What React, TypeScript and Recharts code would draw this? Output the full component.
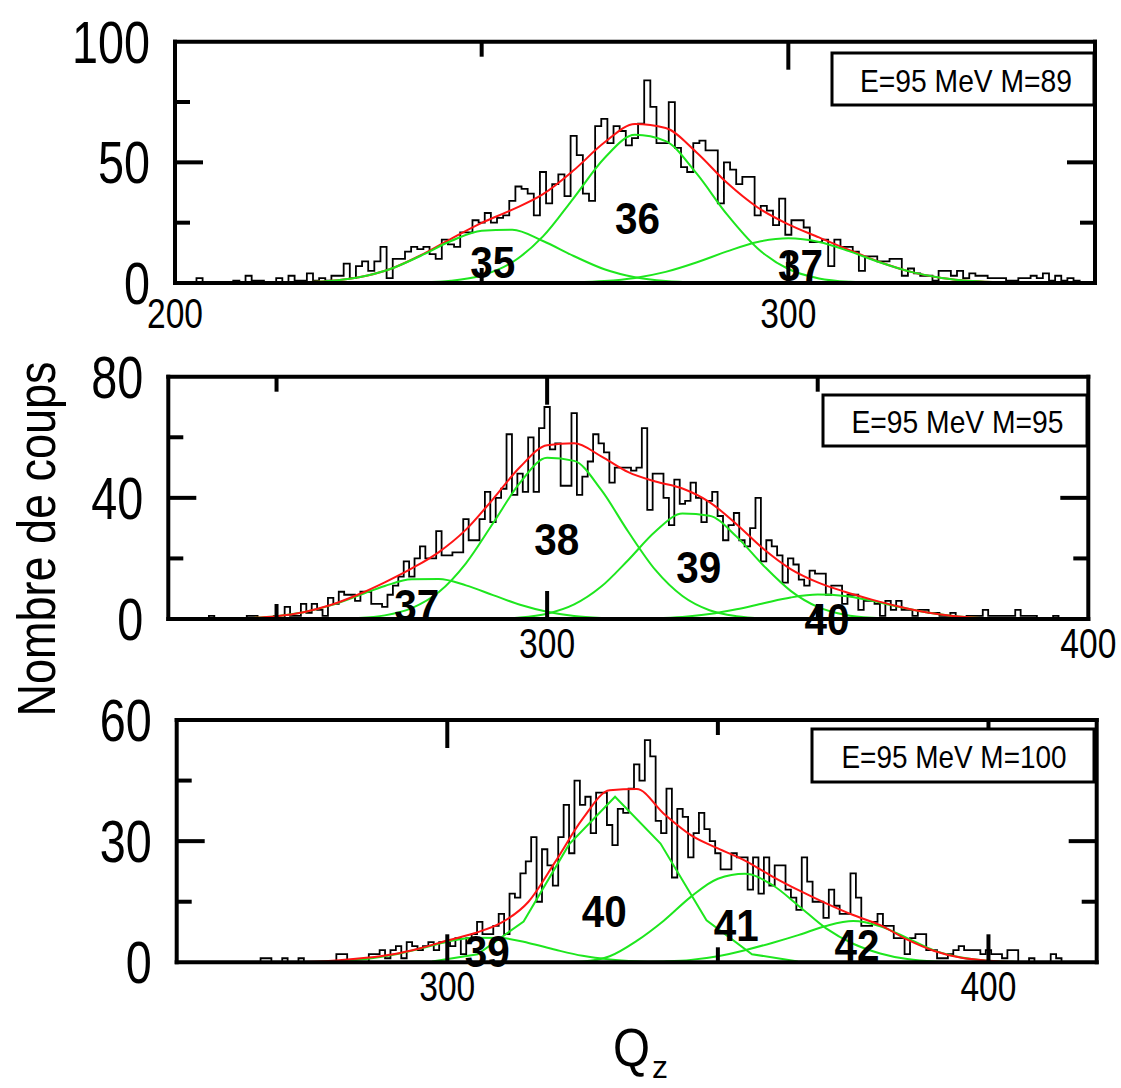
import React from 'react';
import { ComposedChart, Line, XAxis, YAxis, ReferenceDot } from 'recharts';

const FONT = '"Liberation Sans", Arial, Helvetica, sans-serif';
const GREEN = '#1ee61e';
const RED = '#ff1414';

// ---------- panel 1 : E=95 MeV M=89 ----------
const p1HistStart = 200;
const p1Hist = [
  0, 0, 0, 0, 2, 0, 0, 0, 0, 0, // 200
  1, 0, 3, 1, 1, 0, 0, 2, 0, 3, // 210
  1, 1, 4, 1, 2, 1, 3, 3, 8, 2, // 220
  7, 9, 5, 9, 15, 2, 10, 10, 13, 15, // 230
  14, 15, 12, 10, 18, 16, 15, 21, 21, 26, // 240
  25, 29, 25, 27, 28, 34, 40, 39, 37, 28, // 250
  46, 33, 41, 45, 36, 61, 53, 37, 34, 65, // 260
  68, 58, 65, 63, 57, 60, 66, 84, 73, 58, // 270
  58, 75, 56, 48, 46, 58, 59, 55, 55, 33, // 280
  50, 47, 41, 44, 44, 28, 32, 30, 24, 35, // 290
  20, 26, 26, 23, 17, 17, 18, 7, 18, 15, // 300
  15, 13, 5, 11, 11, 9, 9, 10, 10, 3, // 310
  6, 4, 3, 3, 1, 5, 5, 3, 5, 2, // 320
  4, 3, 3, 2, 2, 2, 1, 1, 2, 2, // 330
  3, 2, 4, 1, 3, 1, 2, 1, 0, 0, // 340
  0, // 350
];
const p1FitQ = [200, 205, 210, 215, 220, 225, 230, 235, 240, 245, 250, 255, 260, 265, 270, 275, 280, 285, 290, 295, 300, 305, 310, 315, 320, 325, 330, 335, 340, 345, 350];
const p1Fit35 = [0, 0, 0, 0.04, 0.2, 0.8, 2.4, 5.7, 11.2, 17.4, 21.7, 22.1, 17.4, 11.2, 5.7, 2.4, 0.8, 0.2, 0.04, 0, 0, 0, 0, 0, 0, 0, 0, 0, 0, 0, 0];
const p1Fit36 = [0, 0, 0, 0, 0, 0, 0, 0, 0.2, 0.9, 3.1, 8.6, 19.3, 35.2, 51.7, 61.4, 58.8, 45.5, 28.4, 14.3, 5.8, 1.9, 0.5, 0.1, 0, 0, 0, 0, 0, 0, 0];
const p1Fit37 = [0, 0, 0, 0, 0, 0, 0, 0, 0, 0, 0, 0, 0.07, 0.26, 0.8, 2.1, 4.6, 8.5, 13.1, 17.0, 18.5, 17.0, 13.1, 8.5, 4.6, 2.1, 0.8, 0.26, 0.07, 0, 0];
const p1Sum = [0, 0, 0, 0.04, 0.2, 0.8, 2.4, 5.7, 11.4, 18.3, 24.9, 30.4, 36.8, 46.7, 58.2, 65.9, 64.2, 54.2, 41.5, 31.3, 24.3, 18.9, 13.6, 8.6, 4.6, 2.1, 0.8, 0.26, 0.07, 0, 0];
const p1PeakNames = ['35', '36', '37'];
const p1PeakQ = [251.8, 275.4, 302.0];
const p1PeakY = [8.7, 26.9, 7.5];

// ---------- panel 2 : E=95 MeV M=95 ----------
const p2HistStart = 230;
const p2Hist = [
  0, 0, 0, 0, 0, 0, 0, 0, 1, 0, // 230
  0, 0, 0, 0, 0, 1, 1, 0, 0, 0, // 240
  1, 0, 4, 1, 1, 5, 2, 5, 3, 1, // 250
  7, 5, 9, 8, 8, 6, 9, 9, 5, 5, // 260
  4, 8, 11, 14, 19, 14, 20, 24, 20, 20, // 270
  29, 21, 21, 22, 22, 33, 26, 26, 33, 42, // 280
  32, 40, 43, 61, 41, 48, 42, 60, 42, 63, // 290
  70, 56, 58, 44, 44, 68, 41, 47, 52, 61, // 300
  58, 55, 45, 50, 50, 50, 49, 50, 63, 36, // 310
  48, 48, 40, 31, 46, 38, 39, 45, 40, 32, // 320
  39, 42, 34, 26, 31, 35, 26, 24, 30, 40, // 330
  19, 26, 24, 21, 12, 20, 18, 13, 11, 16, // 340
  15, 15, 8, 11, 11, 5, 8, 8, 3, 6, // 350
  6, 5, 1, 6, 3, 6, 3, 3, 1, 3, // 360
  3, 2, 2, 1, 1, 2, 0, 0, 1, 1, // 370
  1, 3, 1, 1, 1, 1, 1, 3, 1, 1, // 380
  1, 0, 0, 0, 1, 0, 0, 0, 0, 0, // 390
  0, // 400
];
const p2FitQ = [230, 235, 240, 245, 250, 255, 260, 265, 270, 275, 280, 285, 290, 295, 300, 305, 310, 315, 320, 325, 330, 335, 340, 345, 350, 355, 360, 365, 370, 375, 380, 385, 390, 395, 400];
const p2Fit37 = [0, 0.02, 0.1, 0.33, 0.94, 2.24, 4.5, 7.65, 10.9, 13.1, 13.2, 11.1, 7.9, 4.7, 2.4, 1.0, 0.36, 0.11, 0.03, 0, 0, 0, 0, 0, 0, 0, 0, 0, 0, 0, 0, 0, 0, 0, 0];
const p2Fit38 = [0, 0, 0, 0, 0, 0.02, 0.08, 0.33, 1.2, 3.6, 8.9, 18.4, 31.6, 45.0, 53.2, 52.2, 42.6, 28.8, 16.2, 7.6, 2.9, 0.94, 0.25, 0.06, 0, 0, 0, 0, 0, 0, 0, 0, 0, 0, 0];
const p2Fit39 = [0, 0, 0, 0, 0, 0, 0, 0, 0, 0, 0, 0.02, 0.12, 0.51, 1.75, 4.8, 10.7, 19.5, 28.9, 34.8, 34.1, 27.2, 17.6, 9.3, 4.0, 1.4, 0.39, 0.09, 0.02, 0, 0, 0, 0, 0, 0];
const p2Fit40 = [0, 0, 0, 0, 0, 0, 0, 0, 0, 0, 0, 0, 0, 0, 0, 0, 0.02, 0.07, 0.24, 0.69, 1.62, 3.2, 5.2, 7.1, 8.07, 7.6, 6.0, 4.0, 2.2, 0.99, 0.37, 0.12, 0.03, 0, 0];
const p2Sum = [0, 0.02, 0.1, 0.33, 0.94, 2.26, 4.6, 8.0, 12.1, 16.7, 22.1, 29.5, 39.6, 50.2, 57.4, 58.0, 53.7, 48.5, 45.4, 43.1, 38.6, 31.3, 23.1, 16.5, 12.1, 9.0, 6.4, 4.1, 2.2, 1.0, 0.37, 0.12, 0.03, 0, 0];
const p2PeakNames = ['37', '38', '39', '40'];
const p2PeakQ = [275.9, 301.8, 328.0, 351.7];
const p2PeakY = [4.6, 26.4, 17.2, 0];

// ---------- panel 3 : E=95 MeV M=100 ----------
const p3HistStart = 250;
const p3Hist = [
  0, 0, 0, 0, 0, 0, 0, 0, 0, 0, // 250
  0, 0, 0, 0, 0, 0, 1, 1, 0, 0, // 260
  1, 0, 0, 1, 0, 0, 0, 0, 0, 0, // 270
  2, 2, 0, 0, 0, 0, 2, 2, 3, 1, // 280
  3, 4, 1, 5, 4, 3, 4, 5, 3, 5, // 290
  5, 4, 6, 2, 6, 7, 10, 7, 7, 9, // 300
  12, 7, 17, 16, 22, 25, 31, 15, 28, 24, // 310
  19, 31, 39, 27, 45, 39, 41, 32, 42, 42, // 320
  34, 29, 38, 37, 43, 49, 45, 55, 51, 35, // 330
  32, 43, 21, 38, 36, 26, 32, 37, 33, 30, // 340
  27, 23, 23, 27, 26, 26, 18, 26, 17, 26, // 350
  19, 24, 24, 18, 16, 13, 26, 20, 15, 15, // 360
  11, 18, 14, 12, 12, 22, 16, 9, 9, 10, // 370
  12, 9, 9, 6, 6, 2, 6, 7, 7, 3, // 380
  3, 1, 1, 2, 3, 4, 3, 3, 3, 2, // 390
  3, 2, 2, 1, 3, 3, 0, 0, 1, 0, // 400
  0, 0, 2, 1, 0, 0, 0, 0, 0, 0, // 410
  0, // 420
];
const p3FitQ = [250, 255, 260, 265, 270, 275, 280, 285, 290, 295, 300, 305, 310, 315, 320, 325, 330, 335, 340, 345, 350, 355, 360, 365, 370, 375, 380, 385, 390, 395, 400, 405, 410, 415, 420];
const p3Fit39 = [0, 0, 0, 0, 0.02, 0.09, 0.3, 0.84, 1.88, 3.4, 5.1, 6.1, 6.0, 4.8, 3.1, 1.6, 0.7, 0.24, 0.07, 0.02, 0, 0, 0, 0, 0, 0, 0, 0, 0, 0, 0, 0, 0, 0, 0];
const p3Fit40Q = [250, 288.7, 297.2, 305.6, 314.1, 322.5, 331.0, 339.4, 347.9, 356.3, 364.8, 373.2, 420];
const p3Fit40 = [0, 0, 0.2, 2.0, 10.1, 29.2, 41, 29.4, 10.4, 2.0, 0.2, 0, 0];
const p3Fit41 = [0, 0, 0, 0, 0, 0, 0, 0, 0, 0, 0, 0, 0, 0, 0.05, 0.2, 1.5, 5.3, 10.3, 16.2, 20.7, 21.9, 19.2, 13.9, 8.4, 4.6, 2.2, 0.8, 0.2, 0.05, 0, 0, 0, 0, 0];
const p3Fit42 = [0, 0, 0, 0, 0, 0, 0, 0, 0, 0, 0, 0, 0, 0, 0, 0, 0, 0, 0.2, 0.6, 1.5, 3.0, 4.8, 6.8, 9.0, 10.2, 8.9, 6.0, 2.9, 1.2, 0.4, 0.1, 0, 0, 0];
const p3Sum = [0, 0, 0, 0, 0.05, 0.15, 0.5, 1.1, 2.0, 3.5, 5.4, 7.2, 9.8, 15.0, 25.0, 35.5, 42.6, 42.9, 36.8, 31.5, 28.2, 25.2, 21.3, 17.8, 14.6, 11.7, 9.2, 5.6, 2.8, 1.1, 0.4, 0.1, 0, 0, 0];
const p3PeakNames = ['39', '40', '41', '42'];
const p3PeakQ = [307.4, 329.0, 353.4, 375.7];
const p3PeakY = [2.8, 12.7, 9.2, 4.3];

type Row = { q: number; v: number | null };
const histRows = (start: number, counts: number[]): Row[] => counts.map((n, i) => ({ q: start + i, v: n }));
const fitRows = (q: number[], v: number[]): Row[] => q.map((x, i) => ({ q: x, v: v[i] }));

type Series = { rows: Row[]; color: string; curve: 'step' | 'monotone' | 'linear' };

interface PanelProps {
  top: number;
  height: number;
  // edges of the plot frame, in page pixels
  frameLeft: number;
  frameRight: number;
  frameTop: number;
  frameBottom: number;
  xDomain: [number, number];
  yMax: number;
  yTicks: number[];
  yLabeled: number[];
  xTicks: number[];
  xLabeled: number[];
  topTicks: number[];
  xLabelDy: number;
  series: Series[];
  peakNames: string[];
  peakQ: number[];
  peakY: number[];
}

const tickLen = (v: number, labeled: number[], lo: number, hi: number) =>
  v === lo || v === hi ? 0 : labeled.includes(v) ? 28 : 15;

const PAGE_W = 1121;
const AX = 1; // axis band thickness (recharts skips axes of size 0)

const Panel: React.FC<PanelProps> = ({
  top, height, frameLeft, frameRight, frameTop, frameBottom, xDomain, yMax, yTicks, yLabeled, xTicks, xLabeled,
  topTicks, xLabelDy, series, peakNames, peakQ, peakY,
}) => {
  const [x0, x1] = xDomain;
  const frame = { stroke: '#000', strokeWidth: 4, strokeLinecap: 'square' as const };
  const margin = {
    top: frameTop - top - AX,
    bottom: top + height - frameBottom - AX,
    left: frameLeft - AX,
    right: PAGE_W - frameRight - AX,
  };

  const bottomTick = (p: any) => {
    const v = p.payload.value;
    const len = tickLen(v, xLabeled, x0, x1);
    const lab = xLabeled.includes(v) ? String(v) : null;
    return (
      <g>
        {len > 0 && <line x1={p.x} x2={p.x} y1={p.y} y2={p.y - len} stroke="#000" strokeWidth={4} />}
        {lab && (
          <text x={p.x} y={p.y + xLabelDy} textAnchor="middle" fontFamily={FONT} fontSize={43} fill="#000"
            textLength={lab.length * 19 - 1} lengthAdjust="spacingAndGlyphs">{lab}</text>
        )}
      </g>
    );
  };
  const topTick = (p: any) => {
    const len = tickLen(p.payload.value, xLabeled, x0, x1);
    return <g>{len > 0 && <line x1={p.x} x2={p.x} y1={p.y} y2={p.y + len} stroke="#000" strokeWidth={4} />}</g>;
  };
  const leftTick = (p: any) => {
    const v = p.payload.value;
    const len = tickLen(v, yLabeled, 0, yMax);
    const lab = yLabeled.includes(v) ? String(v) : null;
    return (
      <g>
        {len > 0 && <line x1={p.x} x2={p.x + len} y1={p.y} y2={p.y} stroke="#000" strokeWidth={4} />}
        {lab && (
          <text x={p.x - 25} y={p.y + 21} textAnchor="end" fontFamily={FONT} fontSize={60} fill="#000"
            textLength={lab.length * 26} lengthAdjust="spacingAndGlyphs">{lab}</text>
        )}
      </g>
    );
  };
  const rightTick = (p: any) => {
    const len = tickLen(p.payload.value, yLabeled, 0, yMax);
    return <g>{len > 0 && <line x1={p.x} x2={p.x - len} y1={p.y} y2={p.y} stroke="#000" strokeWidth={4} />}</g>;
  };

  return (
    <div style={{ position: 'absolute', left: 0, top, width: PAGE_W, height }}>
      <ComposedChart width={PAGE_W} height={height} margin={margin}>
        <XAxis xAxisId="b" dataKey="q" type="number" domain={xDomain} allowDataOverflow ticks={xTicks} interval={0}
          height={AX} tickSize={0} tickMargin={0} tickLine={false} axisLine={frame} tick={bottomTick} />
        <XAxis xAxisId="t" orientation="top" dataKey="q" type="number" domain={xDomain} allowDataOverflow ticks={topTicks}
          interval={0} height={AX} tickSize={0} tickMargin={0} tickLine={false} axisLine={frame} tick={topTick} />
        <YAxis yAxisId="l" type="number" domain={[0, yMax]} allowDataOverflow ticks={yTicks} interval={0}
          width={AX} tickSize={0} tickMargin={0} tickLine={false} axisLine={frame} tick={leftTick} />
        <YAxis yAxisId="r" orientation="right" type="number" domain={[0, yMax]} allowDataOverflow ticks={yTicks}
          interval={0} width={AX} tickSize={0} tickMargin={0} tickLine={false} axisLine={frame} tick={rightTick} />
        {series.map((s, i) => (
          <Line key={i} xAxisId="b" yAxisId="l" data={s.rows} dataKey="v" type={s.curve} stroke={s.color}
            strokeWidth={s.color === '#000' ? 1.8 : 2} dot={false} activeDot={false} isAnimationActive={false} />
        ))}
        {peakNames.map((name, i) => (
          <ReferenceDot key={name + i} xAxisId="b" yAxisId="l" x={peakQ[i]} y={peakY[i]} r={0} ifOverflow="visible"
            shape={(p: any) => (
              <text x={p.cx} y={p.cy + 16} textAnchor="middle" fontFamily={FONT} fontWeight="bold" fontSize={44}
                fill="#000" textLength={45} lengthAdjust="spacingAndGlyphs">{name}</text>
            )} />
        ))}
      </ComposedChart>
    </div>
  );
};

const App: React.FC = () => {
  const hist1 = histRows(p1HistStart, p1Hist);
  const hist2 = histRows(p2HistStart, p2Hist);
  const hist3 = histRows(p3HistStart, p3Hist);

  return (
    <div style={{ position: 'absolute', left: 0, top: 0, width: PAGE_W, height: 1088, background: '#fff', overflow: 'hidden' }}>
      <Panel
        top={0} height={345} frameLeft={175} frameRight={1095} frameTop={41.7} frameBottom={283}
        xDomain={[200, 350]} yMax={100} yTicks={[0, 25, 50, 75, 100]} yLabeled={[0, 50, 100]}
        xTicks={[200, 250, 300, 350]} xLabeled={[200, 300]} topTicks={[250, 300]} xLabelDy={45}
        series={[
          { rows: hist1, color: '#000', curve: 'step' },
          { rows: fitRows(p1FitQ, p1Sum), color: RED, curve: 'monotone' },
          { rows: fitRows(p1FitQ, p1Fit35), color: GREEN, curve: 'monotone' },
          { rows: fitRows(p1FitQ, p1Fit36), color: GREEN, curve: 'monotone' },
          { rows: fitRows(p1FitQ, p1Fit37), color: GREEN, curve: 'monotone' },
        ]}
        peakNames={p1PeakNames} peakQ={p1PeakQ} peakY={p1PeakY}
      />
      <Panel
        top={345} height={340} frameLeft={168.3} frameRight={1088.3} frameTop={376.7} frameBottom={619}
        xDomain={[230, 400]} yMax={80} yTicks={[0, 20, 40, 60, 80]} yLabeled={[0, 40, 80]}
        xTicks={[250, 300, 350, 400]} xLabeled={[300, 400]} topTicks={[250, 300, 350]} xLabelDy={39}
        series={[
          { rows: hist2, color: '#000', curve: 'step' },
          { rows: fitRows(p2FitQ, p2Fit37), color: GREEN, curve: 'monotone' },
          { rows: fitRows(p2FitQ, p2Fit38), color: GREEN, curve: 'monotone' },
          { rows: fitRows(p2FitQ, p2Fit39), color: GREEN, curve: 'monotone' },
          { rows: fitRows(p2FitQ, p2Fit40), color: GREEN, curve: 'monotone' },
          { rows: fitRows(p2FitQ, p2Sum), color: RED, curve: 'monotone' },
        ]}
        peakNames={p2PeakNames} peakQ={p2PeakQ} peakY={p2PeakY}
      />
      <Panel
        top={685} height={403} frameLeft={176.7} frameRight={1096.7} frameTop={720} frameBottom={962.3}
        xDomain={[250, 420]} yMax={60} yTicks={[0, 15, 30, 45, 60]} yLabeled={[0, 30, 60]}
        xTicks={[300, 350, 400]} xLabeled={[300, 400]} topTicks={[300, 350, 400]} xLabelDy={39}
        series={[
          { rows: hist3, color: '#000', curve: 'step' },
          { rows: fitRows(p3FitQ, p3Fit39), color: GREEN, curve: 'monotone' },
          { rows: fitRows(p3Fit40Q, p3Fit40), color: GREEN, curve: 'linear' },
          { rows: fitRows(p3FitQ, p3Fit41), color: GREEN, curve: 'monotone' },
          { rows: fitRows(p3FitQ, p3Fit42), color: GREEN, curve: 'monotone' },
          { rows: fitRows(p3FitQ, p3Sum), color: RED, curve: 'monotone' },
        ]}
        peakNames={p3PeakNames} peakQ={p3PeakQ} peakY={p3PeakY}
      />

      <svg width={PAGE_W} height={1088} style={{ position: 'absolute', left: 0, top: 0, pointerEvents: 'none' }}>
        <text x={55} y={539} transform="rotate(-90 55 539)" textAnchor="middle" fontFamily={FONT} fontSize={54}
          fill="#000" textLength={355} lengthAdjust="spacingAndGlyphs">Nombre de coups</text>
        <text x={613} y={1066} fontFamily={FONT} fontSize={54} fill="#000" textLength={37} lengthAdjust="spacingAndGlyphs">Q</text>
        <text x={652} y={1078} fontFamily={FONT} fontSize={32} fill="#000" textLength={16} lengthAdjust="spacingAndGlyphs">z</text>

        <rect x={832} y={53} width={262} height={52} fill="#fff" stroke="#000" strokeWidth={3} />
        <text x={966} y={92} textAnchor="middle" fontFamily={FONT} fontSize={32} fill="#000" textLength={212}
          lengthAdjust="spacingAndGlyphs">E=95 MeV M=89</text>
        <rect x={823} y={395} width={264} height={51} fill="#fff" stroke="#000" strokeWidth={3} />
        <text x={957.5} y={433} textAnchor="middle" fontFamily={FONT} fontSize={32} fill="#000" textLength={212}
          lengthAdjust="spacingAndGlyphs">E=95 MeV M=95</text>
        <rect x={812} y={729} width={282} height={53} fill="#fff" stroke="#000" strokeWidth={3} />
        <text x={954} y={768} textAnchor="middle" fontFamily={FONT} fontSize={32} fill="#000" textLength={225}
          lengthAdjust="spacingAndGlyphs">E=95 MeV M=100</text>
      </svg>
    </div>
  );
};

export default App;
